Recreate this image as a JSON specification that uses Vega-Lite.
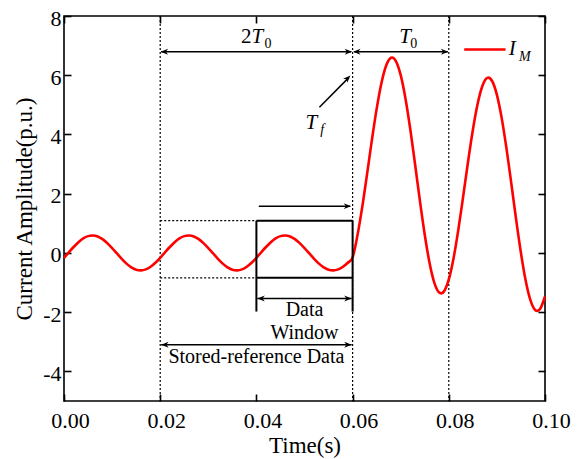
{
"$schema": "https://vega.github.io/schema/vega-lite/v6.json",
"width": 481, "height": 385,
"autosize": "none",
"padding": {"left": 64, "top": 16, "right": 38, "bottom": 58},
"background": "white",
"config": {
  "view": {"stroke": "black", "strokeWidth": 1.6},
  "axis": {"labelFont": "Liberation Serif", "titleFont": "Liberation Serif", "labelFontSize": 22, "titleFontSize": 23, "titleFontWeight": "normal", "labelColor": "black", "titleColor": "black", "tickColor": "black", "tickWidth": 1.6, "domain": false, "grid": false}
},
"datasets": {
  "signal": [
    {"t":0.000,"v":-0.165},{"t":0.001,"v":0.019},{"t":0.002,"v":0.200},{"t":0.003,"v":0.362},{"t":0.004,"v":0.488},{"t":0.005,"v":0.567},{"t":0.006,"v":0.590},{"t":0.007,"v":0.555},{"t":0.008,"v":0.466},{"t":0.009,"v":0.332},
    {"t":0.010,"v":0.165},{"t":0.011,"v":-0.019},{"t":0.012,"v":-0.200},{"t":0.013,"v":-0.362},{"t":0.014,"v":-0.488},{"t":0.015,"v":-0.567},{"t":0.016,"v":-0.590},{"t":0.017,"v":-0.555},{"t":0.018,"v":-0.466},{"t":0.019,"v":-0.332},
    {"t":0.020,"v":-0.165},{"t":0.021,"v":0.019},{"t":0.022,"v":0.200},{"t":0.023,"v":0.362},{"t":0.024,"v":0.488},{"t":0.025,"v":0.567},{"t":0.026,"v":0.590},{"t":0.027,"v":0.555},{"t":0.028,"v":0.466},{"t":0.029,"v":0.332},
    {"t":0.030,"v":0.165},{"t":0.031,"v":-0.019},{"t":0.032,"v":-0.200},{"t":0.033,"v":-0.362},{"t":0.034,"v":-0.488},{"t":0.035,"v":-0.567},{"t":0.036,"v":-0.590},{"t":0.037,"v":-0.555},{"t":0.038,"v":-0.466},{"t":0.039,"v":-0.332},
    {"t":0.040,"v":-0.165},{"t":0.041,"v":0.019},{"t":0.042,"v":0.200},{"t":0.043,"v":0.362},{"t":0.044,"v":0.488},{"t":0.045,"v":0.567},{"t":0.046,"v":0.590},{"t":0.047,"v":0.555},{"t":0.048,"v":0.466},{"t":0.049,"v":0.332},
    {"t":0.050,"v":0.165},{"t":0.051,"v":-0.019},{"t":0.052,"v":-0.200},{"t":0.053,"v":-0.362},{"t":0.054,"v":-0.488},{"t":0.055,"v":-0.567},{"t":0.056,"v":-0.590},{"t":0.057,"v":-0.555},{"t":0.058,"v":-0.466},{"t":0.059,"v":-0.332},
    {"t":0.060,"v":-0.150},{"t":0.061,"v":0.584},{"t":0.062,"v":1.545},{"t":0.063,"v":2.653},{"t":0.064,"v":3.799},{"t":0.065,"v":4.863},{"t":0.066,"v":5.738},{"t":0.067,"v":6.336},{"t":0.068,"v":6.592},{"t":0.069,"v":6.478},
    {"t":0.070,"v":6.002},{"t":0.071,"v":5.207},{"t":0.072,"v":4.166},{"t":0.073,"v":2.978},{"t":0.074,"v":1.755},{"t":0.075,"v":0.614},{"t":0.076,"v":-0.337},{"t":0.077,"v":-1.010},{"t":0.078,"v":-1.339},{"t":0.079,"v":-1.298},
    {"t":0.080,"v":-0.894},{"t":0.081,"v":-0.169},{"t":0.082,"v":0.802},{"t":0.083,"v":1.921},{"t":0.084,"v":3.077},{"t":0.085,"v":4.151},{"t":0.086,"v":5.036},{"t":0.087,"v":5.644},{"t":0.088,"v":5.909},{"t":0.089,"v":5.805},
    {"t":0.090,"v":5.339},{"t":0.091,"v":4.552},{"t":0.092,"v":3.520},{"t":0.093,"v":2.341},{"t":0.094,"v":1.127},{"t":0.095,"v":-0.005},{"t":0.096,"v":-0.948},{"t":0.097,"v":-1.612},{"t":0.098,"v":-1.933},{"t":0.099,"v":-1.884},
    {"t":0.100,"v":-1.472}
  ],
  "vlines": [{"t":0.02},{"t":0.06},{"t":0.08}],
  "arrows": [
    {"t":0.0202,"t2":0.0597,"v":6.79,"v2":6.79},
    {"t":0.0603,"t2":0.0798,"v":6.79,"v2":6.79},
    {"t":0.0405,"t2":0.0595,"v":1.58,"v2":1.58},
    {"t":0.0402,"t2":0.0598,"v":-1.54,"v2":-1.54},
    {"t":0.0202,"t2":0.0598,"v":-3.1,"v2":-3.1},
    {"t":0.0531,"t2":0.0592,"v":4.92,"v2":5.92}
  ],
  "box": [
    {"t":0.04,"t2":0.06,"v":1.09,"v2":1.09},
    {"t":0.04,"t2":0.06,"v":-0.84,"v2":-0.84},
    {"t":0.04,"t2":0.04,"v":1.09,"v2":-1.98},
    {"t":0.06,"t2":0.06,"v":1.09,"v2":-1.98}
  ],
  "dotted": [
    {"t":0.02,"t2":0.04,"v":1.09,"v2":1.09},
    {"t":0.02,"t2":0.04,"v":-0.84,"v2":-0.84}
  ],
  "headsR": [{"t":0.0599,"v":6.79},{"t":0.0799,"v":6.79},{"t":0.0597,"v":1.58},{"t":0.0598,"v":-1.54},{"t":0.0598,"v":-3.1}],
  "headsL": [{"t":0.0201,"v":6.79},{"t":0.0601,"v":6.79},{"t":0.0402,"v":-1.54},{"t":0.0202,"v":-3.1}],
  "headD": [{"t":0.05954,"v":5.99}],
  "legendLine": [{"t":0.0832,"t2":0.0918,"v":6.87}],
  "txtItalic": [{"t":0.0402,"v":7.1,"s":"T"},{"t":0.0709,"v":7.1,"s":"T"},{"t":0.0932,"v":6.70,"s":"I"},{"t":0.0514,"v":4.2,"s":"T"}],
  "txtUpright": [{"t":0.0379,"v":7.1,"s":"2"}],
  "subUpright": [{"t":0.0424,"v":6.92,"s":"0"},{"t":0.0727,"v":6.92,"s":"0"}],
  "subItalic": [{"t":0.0958,"v":6.48,"s":"M"},{"t":0.0537,"v":4.0,"s":"f"}],
  "txtMid": [{"t":0.05,"v":-1.93,"s":"Data"},{"t":0.05,"v":-2.70,"s":"Window"},{"t":0.04,"v":-3.5,"s":"Stored-reference Data"}]
},
"layer": [
  {"data":{"name":"vlines"},
   "mark":{"type":"rule","color":"black","strokeWidth":1.2,"strokeDash":[2,2]},
   "encoding":{"x":{"field":"t","type":"quantitative","scale":{"domain":[0,0.1],"nice":false,"zero":false},
     "axis":{"orient":"bottom","values":[0,0.02,0.04,0.06,0.08,0.1],"format":".2f","title":"Time(s)","tickSize":-7,"labelPadding":16,"labelFlush":false,"labelAlign":"center","labelOffset":6,"titlePadding":3}}}},
  {"data":{"name":"signal"},
   "mark":{"type":"line","color":"#ff0000","strokeWidth":2.6,"interpolate":"cardinal"},
   "encoding":{
     "x":{"field":"t","type":"quantitative","axis":{"orient":"top","values":[0,0.02,0.04,0.06,0.08,0.1],"labels":false,"title":null,"tickSize":-7}},
     "y":{"field":"v","type":"quantitative","scale":{"domain":[-5,8],"nice":false,"zero":false},
       "axis":{"orient":"left","values":[-4,-2,0,2,4,6,8],"labelExpr":"datum.value < 0 ? '-' + format(-datum.value, 'd') : format(datum.value, 'd')","title":"Current Amplitude(p.u.)","tickSize":-7,"labelPadding":10,"labelOffset":2,"titlePadding":6}}}},
  {"data":{"name":"box"},
   "mark":{"type":"rule","color":"black","strokeWidth":2},
   "encoding":{"x":{"field":"t","type":"quantitative","axis":null},"x2":{"field":"t2"},
     "y":{"field":"v","type":"quantitative","axis":{"orient":"right","values":[-4,-2,0,2,4,6,8],"labels":false,"title":null,"tickSize":-7}},"y2":{"field":"v2"}}},
  {"data":{"name":"arrows"},
   "mark":{"type":"rule","color":"black","strokeWidth":1.5},
   "encoding":{"x":{"field":"t","type":"quantitative","axis":null},"x2":{"field":"t2"},"y":{"field":"v","type":"quantitative","axis":null},"y2":{"field":"v2"}}},
  {"data":{"name":"dotted"},
   "mark":{"type":"rule","color":"black","strokeWidth":1.3,"strokeDash":[2,2]},
   "encoding":{"x":{"field":"t","type":"quantitative","axis":null},"x2":{"field":"t2"},"y":{"field":"v","type":"quantitative","axis":null},"y2":{"field":"v2"}}},
  {"data":{"name":"headsR"},
   "mark":{"type":"point","shape":"M0,0L-1,-0.4L-0.7,0L-1,0.4Z","filled":true,"color":"black","size":220,"opacity":1,"strokeWidth":0},
   "encoding":{"x":{"field":"t","type":"quantitative","axis":null},"y":{"field":"v","type":"quantitative","axis":null}}},
  {"data":{"name":"headsL"},
   "mark":{"type":"point","shape":"M0,0L1,-0.4L0.7,0L1,0.4Z","filled":true,"color":"black","size":220,"opacity":1,"strokeWidth":0},
   "encoding":{"x":{"field":"t","type":"quantitative","axis":null},"y":{"field":"v","type":"quantitative","axis":null}}},
  {"data":{"name":"headD"},
   "mark":{"type":"point","shape":"M0,0L-1,-0.4L-0.7,0L-1,0.4Z","filled":true,"color":"black","size":220,"opacity":1,"strokeWidth":0,"angle":315},
   "encoding":{"x":{"field":"t","type":"quantitative","axis":null},"y":{"field":"v","type":"quantitative","axis":null}}},
  {"data":{"name":"legendLine"},
   "mark":{"type":"rule","color":"#ff0000","strokeWidth":2.6},
   "encoding":{"x":{"field":"t","type":"quantitative","axis":null},"x2":{"field":"t2"},"y":{"field":"v","type":"quantitative","axis":null}}},
  {"data":{"name":"txtItalic"},
   "mark":{"type":"text","font":"Liberation Serif","fontSize":21,"fontStyle":"italic","color":"black","align":"center","baseline":"alphabetic"},
   "encoding":{"x":{"field":"t","type":"quantitative","axis":null},"y":{"field":"v","type":"quantitative","axis":null},"text":{"field":"s"}}},
  {"data":{"name":"txtUpright"},
   "mark":{"type":"text","font":"Liberation Serif","fontSize":21,"color":"black","align":"center","baseline":"alphabetic"},
   "encoding":{"x":{"field":"t","type":"quantitative","axis":null},"y":{"field":"v","type":"quantitative","axis":null},"text":{"field":"s"}}},
  {"data":{"name":"subUpright"},
   "mark":{"type":"text","font":"Liberation Serif","fontSize":14,"color":"black","align":"center","baseline":"alphabetic"},
   "encoding":{"x":{"field":"t","type":"quantitative","axis":null},"y":{"field":"v","type":"quantitative","axis":null},"text":{"field":"s"}}},
  {"data":{"name":"subItalic"},
   "mark":{"type":"text","font":"Liberation Serif","fontSize":14,"fontStyle":"italic","color":"black","align":"center","baseline":"alphabetic"},
   "encoding":{"x":{"field":"t","type":"quantitative","axis":null},"y":{"field":"v","type":"quantitative","axis":null},"text":{"field":"s"}}},
  {"data":{"name":"txtMid"},
   "mark":{"type":"text","font":"Liberation Serif","fontSize":20,"color":"black","align":"center","baseline":"middle"},
   "encoding":{"x":{"field":"t","type":"quantitative","axis":null},"y":{"field":"v","type":"quantitative","axis":null},"text":{"field":"s"}}}
]
}
